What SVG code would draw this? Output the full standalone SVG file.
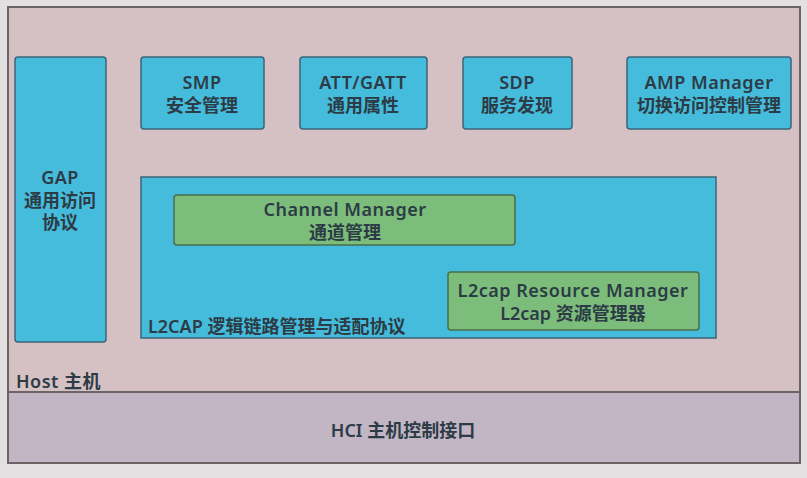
<svg xmlns="http://www.w3.org/2000/svg" width="807" height="478" viewBox="0 0 807 478">
<style>
text{font-family:"Noto Sans","Noto Sans CJK SC",sans-serif;font-weight:600;font-size:18px;fill:#2c3b45;text-anchor:middle;dominant-baseline:central}
.lat{letter-spacing:0.5px}
.blue{fill:#46bcdc;stroke:#3c6478;stroke-width:1.5}
.green{fill:#7dbd7c;stroke:#4a6e4a;stroke-width:1.5}
.left{text-anchor:start}
</style>
<rect x="0" y="0" width="807" height="478" fill="#e2e0e0"/>
<g id="host">
<rect x="8" y="7" width="792" height="385" fill="#d5c1c3" stroke="#6b6567" stroke-width="2"/>
<text class="left lat" x="16" y="381">Host 主机</text>
</g>
<g id="hci">
<rect x="8" y="392" width="792" height="71" fill="#c2b5c4" stroke="#6b6567" stroke-width="2"/>
<text x="403" y="430">HCI 主机控制接口</text>
</g>
<g id="gap">
<rect class="blue" x="15" y="57" width="91" height="285" rx="3"/>
<text class="lat" x="60" y="177">GAP</text>
<text x="60" y="200">通用访问</text>
<text x="60" y="222">协议</text>
</g>
<g id="smp">
<rect class="blue" x="141" y="57" width="123" height="72" rx="3"/>
<text class="lat" x="202" y="82">SMP</text>
<text x="202" y="105">安全管理</text>
</g>
<g id="att">
<rect class="blue" x="300" y="57" width="127" height="72" rx="3"/>
<text class="lat" x="363" y="82">ATT/GATT</text>
<text x="363" y="105">通用属性</text>
</g>
<g id="sdp">
<rect class="blue" x="463" y="57" width="109" height="72" rx="3"/>
<text class="lat" x="517" y="82">SDP</text>
<text x="517" y="105">服务发现</text>
</g>
<g id="amp">
<rect class="blue" x="627" y="57" width="164" height="72" rx="3"/>
<text class="lat" x="709" y="82">AMP Manager</text>
<text x="709" y="105">切换访问控制管理</text>
</g>
<g id="l2cap">
<rect class="blue" x="141" y="177" width="575" height="161"/>
<text class="left" x="148" y="326">L2CAP 逻辑链路管理与适配协议</text>
</g>
<g id="channel">
<rect class="green" x="174" y="195" width="341" height="50" rx="3"/>
<text class="lat" x="345" y="209">Channel Manager</text>
<text x="345" y="232">通道管理</text>
</g>
<g id="resource">
<rect class="green" x="448" y="272" width="251" height="58" rx="3"/>
<text class="lat" x="573" y="290">L2cap Resource Manager</text>
<text x="573" y="313">L2cap 资源管理器</text>
</g>
<g id="connectors"></g>
</svg>
